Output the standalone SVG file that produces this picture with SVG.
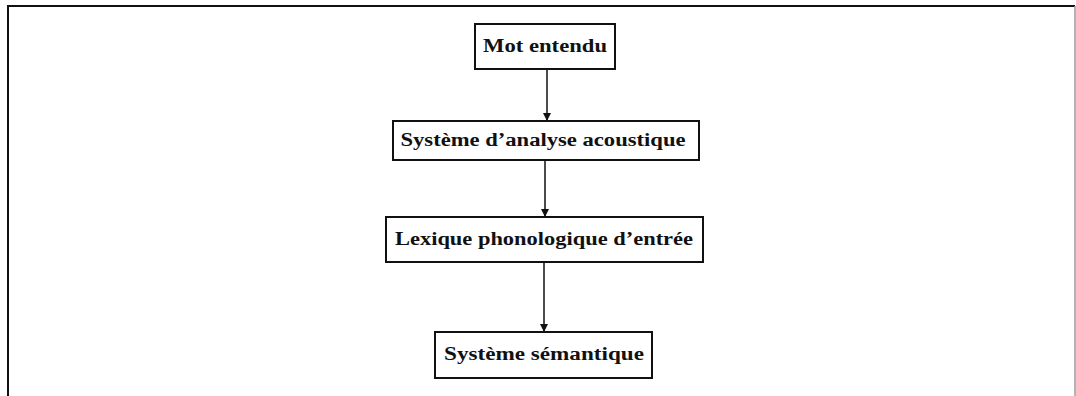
<svg xmlns="http://www.w3.org/2000/svg" width="1076" height="396" viewBox="0 0 1076 396">
  <style>
    .box { fill: #ffffff; stroke: #111111; stroke-width: 2; }
    .lbl { font-family: "Liberation Serif", "DejaVu Serif", serif; font-size: 18px; font-weight: bold; fill: #111111; text-anchor: middle; }
    .link { stroke: #111111; stroke-width: 1.5; fill: none; marker-end: url(#head); }
    .frame { fill: none; stroke: #111111; stroke-width: 2; }
  </style>
  <defs>
    <marker id="head" viewBox="0 0 10 10" refX="10" refY="5" markerWidth="8" markerHeight="8" markerUnits="userSpaceOnUse" orient="auto">
      <path d="M0,0 L10,5 L0,10 Z" fill="#111111"/>
    </marker>
  </defs>

  <rect width="1076" height="396" fill="#ffffff"/>
  <!-- outer frame, open at the bottom; the right side is printed faintly -->
  <path class="frame" d="M8,400 L8,6 L1075,6"/>
  <line x1="1075" y1="6" x2="1075" y2="400" stroke="#9a9a9a" stroke-width="1.5"/>

  <g id="connectors">
    <line class="link" x1="547" y1="69" x2="547" y2="121"/>
    <line class="link" x1="545" y1="160" x2="545" y2="217"/>
    <line class="link" x1="544" y1="262" x2="544" y2="332"/>
  </g>

  <g id="mot-entendu">
    <rect class="box" x="475" y="24" width="140" height="45"/>
    <text class="lbl" x="545" y="52" textLength="124" lengthAdjust="spacingAndGlyphs">Mot entendu</text>
  </g>

  <g id="analyse-acoustique">
    <rect class="box" x="393" y="121" width="306" height="39"/>
    <text class="lbl" x="543" y="146" textLength="285" lengthAdjust="spacingAndGlyphs">Système d’analyse acoustique</text>
  </g>

  <g id="lexique-phonologique">
    <rect class="box" x="386" y="217" width="317" height="45"/>
    <text class="lbl" x="544" y="245" textLength="298" lengthAdjust="spacingAndGlyphs">Lexique phonologique d’entrée</text>
  </g>

  <g id="systeme-semantique">
    <rect class="box" x="435" y="332" width="217" height="46"/>
    <text class="lbl" x="544" y="360" textLength="200" lengthAdjust="spacingAndGlyphs">Système sémantique</text>
  </g>
</svg>
